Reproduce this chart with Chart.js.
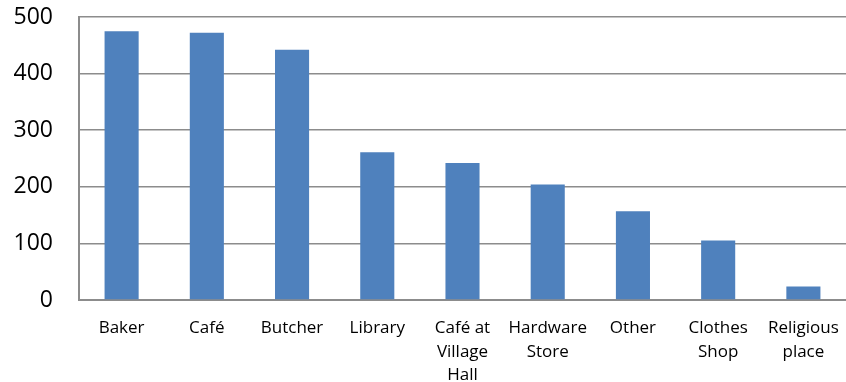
<!DOCTYPE html>
<html>
<head>
<meta charset="utf-8">
<script src="https://cdn.jsdelivr.net/npm/chart.js@4/dist/chart.umd.min.js"></script>
<style>
    html, body { margin: 0; padding: 0; background: #fff; }
    #wrap { width: 846px; height: 382px; }
</style>
</head>
<body>
<div id="wrap"><canvas id="chart"></canvas></div>
<script>
// Chart data
const categories = [
    'Baker', 'Café', 'Butcher', 'Library', ['Café at', 'Village', 'Hall'],
    ['Hardware', 'Store'], 'Other', ['Clothes', 'Shop'], ['Religious', 'place']
];
const values = [475, 472, 442, 261, 242, 204, 157, 105, 24];
const yTicks = [0, 100, 200, 300, 400, 500];

const fontFamily = "'Open Sans', 'Liberation Sans', sans-serif";
const axisGrey = '#8c8c8c';

const ctx = document.getElementById('chart').getContext('2d');

new Chart(ctx, {
    type: 'bar',
    data: {
        labels: categories,
        datasets: [{
            data: values,
            backgroundColor: '#4f81bd',
            borderWidth: 0,
            categoryPercentage: 1,
            barPercentage: 0.4
        }]
    },
    options: {
        responsive: true,
        maintainAspectRatio: false,
        animation: false,
        layout: { padding: { top: 17, right: 0, left: 0, bottom: 0 } },
        plugins: {
            legend: { display: false },
            tooltip: { enabled: false }
        },
        scales: {
            x: {
                grid: { display: false },
                border: { color: axisGrey, width: 2 },
                ticks: {
                    color: '#000',
                    font: { family: fontFamily, size: 17, lineHeight: 1.4 },
                    maxRotation: 0,
                    autoSkip: false,
                    padding: 8
                },
                afterFit: function(scale) {
                    scale.height = 82;
                    scale.paddingLeft = 0;
                    scale.paddingRight = 0;
                }
            },
            y: {
                min: 0,
                max: 500,
                afterBuildTicks: function(scale) {
                    scale.ticks = yTicks.map(v => ({ value: v }));
                },
                grid: {
                    color: axisGrey,
                    lineWidth: 1.5,
                    drawTicks: false
                },
                border: { color: axisGrey, width: 2 },
                ticks: {
                    color: '#000',
                    font: { family: fontFamily, size: 23 },
                    padding: 26
                },
                afterFit: function(scale) {
                    scale.width = 79;
                    scale.paddingTop = 0;
                    scale.paddingBottom = 0;
                }
            }
        }
    }
});
</script>
</body>
</html>
